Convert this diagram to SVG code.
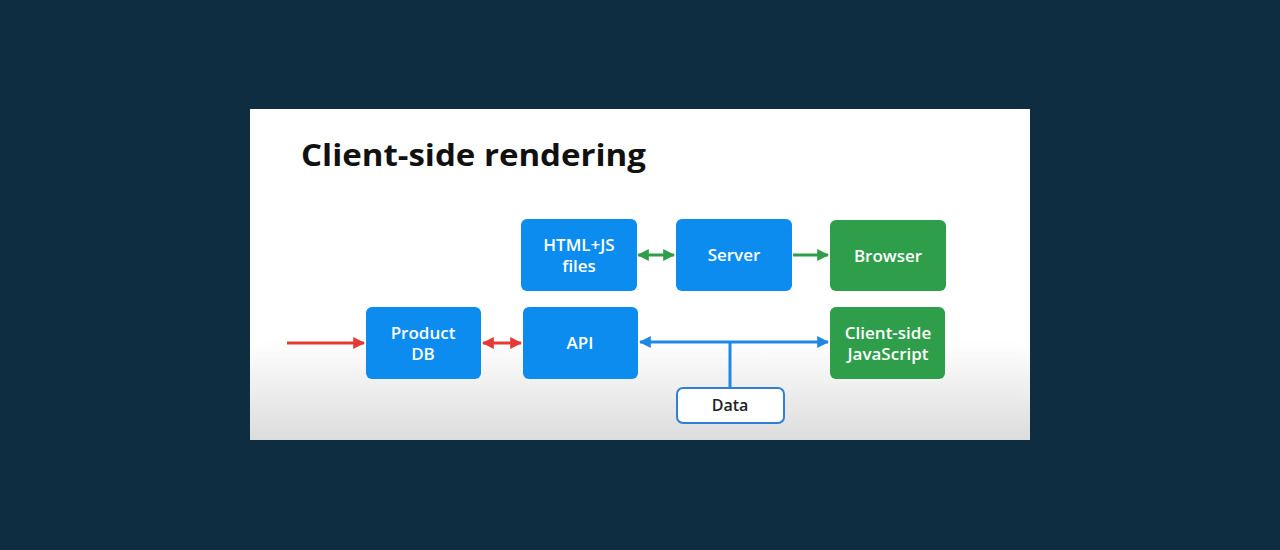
<svg xmlns="http://www.w3.org/2000/svg" width="1280" height="550" viewBox="0 0 1280 550">
<defs>
<linearGradient id="slideGrad" x1="0" y1="0" x2="0" y2="1">
<stop offset="0" stop-color="#ffffff"/>
<stop offset="0.7" stop-color="#ffffff"/>
<stop offset="1" stop-color="#dcdcdc"/>
</linearGradient>
<marker id="arRed" viewBox="0 0 10 10" refX="9" refY="5" markerWidth="4" markerHeight="4" orient="auto-start-reverse"><path d="M0,0 L10,5 L0,10 z" fill="#e53935"/></marker>
<marker id="arGreen" viewBox="0 0 10 10" refX="9" refY="5" markerWidth="4" markerHeight="4" orient="auto-start-reverse"><path d="M0,0 L10,5 L0,10 z" fill="#2e9e4a"/></marker>
<marker id="arBlue" viewBox="0 0 10 10" refX="9" refY="5" markerWidth="4" markerHeight="4" orient="auto-start-reverse"><path d="M0,0 L10,5 L0,10 z" fill="#1e88e5"/></marker>
</defs>
<style>
.blue{fill:#0b8cee}
.green{fill:#2e9e4a}
.lbl{font-family:"Open Sans","Liberation Sans",sans-serif;font-size:17px;font-weight:600;fill:#ffffff;text-anchor:middle}
.dlbl{font-family:"Open Sans","Liberation Sans",sans-serif;font-size:16px;font-weight:600;fill:#202124;text-anchor:middle}
.title{font-family:"Open Sans","Liberation Sans",sans-serif;font-size:31px;font-weight:700;fill:#111111}
</style>
<rect width="1280" height="550" fill="#0f2d40"/>
<rect x="250" y="109" width="780" height="331" fill="url(#slideGrad)"/>
<text class="title" x="301" y="166" textLength="345" lengthAdjust="spacingAndGlyphs">Client-side rendering</text>
<g id="connectors" fill="none" stroke-width="3">
<line x1="287" y1="343" x2="364" y2="343" stroke="#e53935" marker-end="url(#arRed)"/>
<line x1="483" y1="343" x2="521" y2="343" stroke="#e53935" marker-start="url(#arRed)" marker-end="url(#arRed)"/>
<line x1="638" y1="255" x2="674" y2="255" stroke="#2e9e4a" marker-start="url(#arGreen)" marker-end="url(#arGreen)"/>
<line x1="793" y1="255" x2="828" y2="255" stroke="#2e9e4a" marker-end="url(#arGreen)"/>
<line x1="640" y1="342" x2="828" y2="342" stroke="#1e88e5" marker-start="url(#arBlue)" marker-end="url(#arBlue)"/>
<line x1="730" y1="342" x2="730" y2="387" stroke="#1e88e5"/>
</g>
<g id="html-js"><rect class="blue" x="521" y="219" width="116" height="72" rx="6"/><text class="lbl" x="579" y="251">HTML+JS</text><text class="lbl" x="579" y="272">files</text></g>
<g id="server"><rect class="blue" x="676" y="219" width="116" height="72" rx="6"/><text class="lbl" x="734" y="261">Server</text></g>
<g id="browser"><rect class="green" x="830" y="220" width="116" height="71" rx="6"/><text class="lbl" x="888" y="262">Browser</text></g>
<g id="product-db"><rect class="blue" x="366" y="307" width="115" height="72" rx="6"/><text class="lbl" x="423" y="339">Product</text><text class="lbl" x="423" y="360">DB</text></g>
<g id="api"><rect class="blue" x="523" y="307" width="115" height="72" rx="6"/><text class="lbl" x="580" y="349">API</text></g>
<g id="client-js"><rect class="green" x="830" y="307" width="115" height="72" rx="6"/><text class="lbl" x="888" y="339">Client-side</text><text class="lbl" x="888" y="360">JavaScript</text></g>
<g id="data"><rect x="677" y="388" width="107" height="35" rx="6" fill="#ffffff" stroke="#2f7fd6" stroke-width="2"/><text class="dlbl" x="730" y="411">Data</text></g>
</svg>
